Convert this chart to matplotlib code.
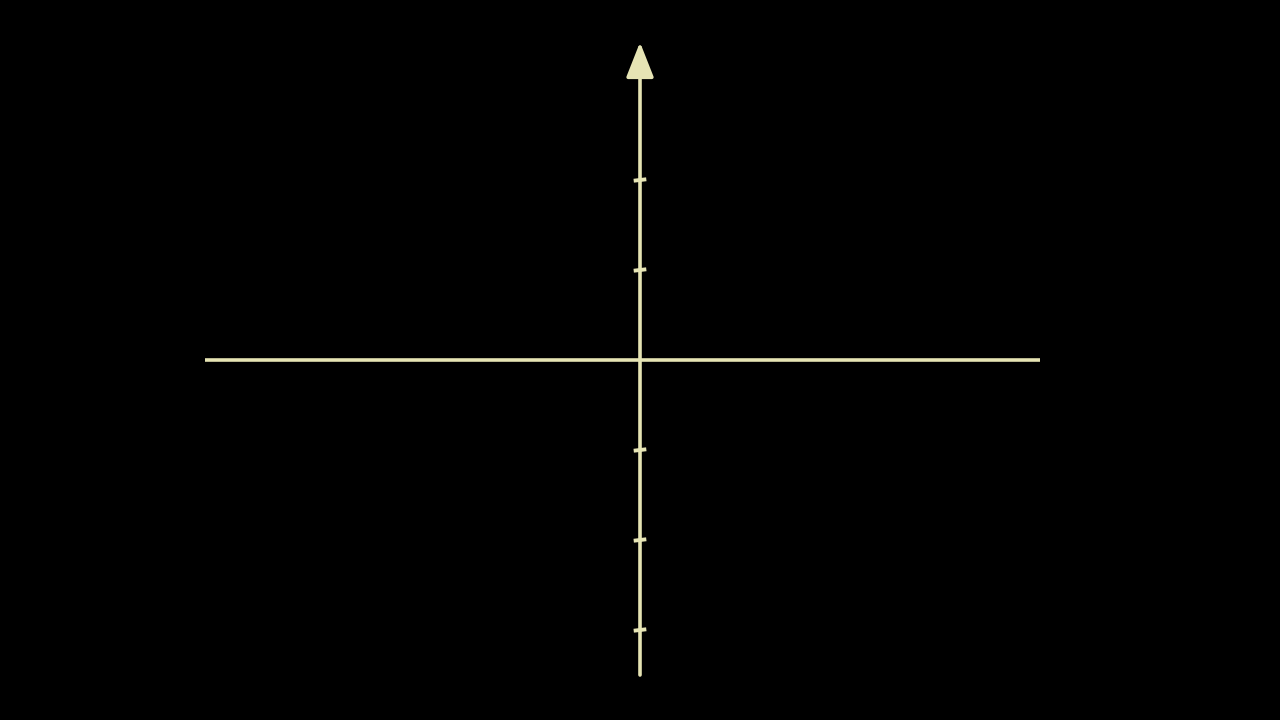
import numpy as np
import matplotlib.pyplot as plt

# axis extents (in unit steps) and tick positions on the vertical axis
x_axis = [-4.83, 4.44]
y_axis = [-3.5, 3.53]
y_ticks = [2, 1, -1, -2, -3]
tick_half = 0.07
col = '#e6e4b4'

fig = plt.figure(figsize=(12.8, 7.2), dpi=100, facecolor='black')
ax = fig.add_axes([0, 0, 1, 1])
ax.set_facecolor('black')
ax.set_xlim(-640 / 90, 640 / 90)
ax.set_ylim(-4, 4)
ax.axis('off')

# horizontal axis
ax.plot(x_axis, [0, 0], color=col, lw=2.6, solid_capstyle='butt')

# vertical axis with arrow head
ax.annotate('', xy=(0, y_axis[1]), xytext=(0, y_axis[0]),
            arrowprops=dict(arrowstyle='-|>,head_length=0.38,head_width=0.15',
                            mutation_scale=57, color=col, lw=2.6,
                            shrinkA=0, shrinkB=0))

# small, slightly tilted ticks
for t in y_ticks:
    ax.plot([-tick_half, tick_half], [t - 0.008, t + 0.008], color=col, lw=2.8,
            solid_capstyle='butt')

plt.savefig('out.png', dpi=100, facecolor='black')
